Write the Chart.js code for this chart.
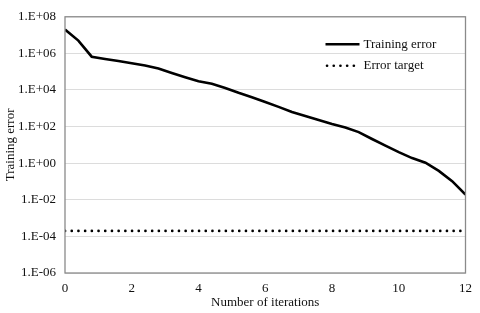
<!DOCTYPE html>
<html>
<head>
<meta charset="utf-8">
<script src="https://cdn.jsdelivr.net/npm/chart.js@4.4.1/dist/chart.umd.min.js"></script>
<style>
  html, body { margin: 0; padding: 0; background: #fff; }
  #wrap { width: 480px; height: 313px; }
</style>
</head>
<body>
<div id="wrap"><canvas id="myChart" width="480" height="313"></canvas></div>
<script>
// Iterations (x) and training error
const iterations = [0, 0.4, 0.8, 1.2, 1.6, 2.0, 2.4, 2.8, 3.2, 3.6, 4.0, 4.4, 4.8, 5.2, 5.6, 6.0,
  6.4, 6.8, 7.2, 7.6, 8.0, 8.4, 8.8, 9.2, 9.6, 10.0, 10.4, 10.8, 11.2, 11.6, 12.0]
const trainingError = [2.0e7, 5.0e6, 6.6e5, 5.0e5, 3.8e5, 2.9e5, 2.2e5, 1.5e5, 8.5e4, 5.0e4, 3.0e4,
  2.2e4, 1.3e4, 7.0e3, 4.0e3, 2.2e3, 1.2e3, 630, 380, 230, 140, 90, 50, 21, 9.1, 4.0, 1.9, 1.07,
  0.38, 0.105, 0.019]

// Error target is a flat line over the whole range
const targetIterations = [0, 12]
const errorTarget = [2e-4, 2e-4]

// Tick labels
const xTicks = [0, 2, 4, 6, 8, 10, 12]
const yTicks = [1e-6, 1e-4, 1e-2, 1, 1e2, 1e4, 1e6, 1e8]

const seriesLabels = ['Training error', 'Error target']

const FONT = '"Liberation Serif", "Times New Roman", serif'

// Excel style "1.E+08"
function sciLabel(v) {
  const e = Math.round(Math.log10(v))
  const s = e < 0 ? '-' : '+'
  return '1.E' + s + String(Math.abs(e)).padStart(2, '0')
}

// Draw the grey frame round the plot
const framePlugin = {
  id: 'frame',
  afterDatasetsDraw(chart) {
    const { ctx, chartArea: a } = chart
    ctx.save()
    ctx.strokeStyle = '#8a8a8a'
    ctx.lineWidth = 1.3
    ctx.strokeRect(a.left, a.top, a.right - a.left, a.bottom - a.top)
    ctx.restore()
  }
}

// Legend inside the plot, top right
const insideLegend = {
  id: 'insideLegend',
  afterDraw(chart) {
    const { ctx, chartArea: a } = chart
    const x0 = a.right - 140
    const rows = [a.top + 27.5, a.top + 49]
    ctx.save()
    chart.data.datasets.forEach((ds, i) => {
      const y = rows[i]
      ctx.beginPath()
      ctx.strokeStyle = ds.borderColor
      ctx.lineWidth = ds.borderWidth
      ctx.lineCap = ds.borderCapStyle || 'butt'
      ctx.setLineDash(ds.borderDash || [])
      ctx.moveTo(x0 + (i ? 1.5 : 0), y)
      ctx.lineTo(x0 + 34, y)
      ctx.stroke()
      ctx.setLineDash([])
      ctx.fillStyle = '#111'
      ctx.font = '13px ' + FONT
      ctx.textBaseline = 'middle'
      ctx.fillText(ds.label, x0 + 38, y)
    })
    ctx.restore()
  }
}

const ctx = document.getElementById('myChart').getContext('2d')

const myChart = new Chart(ctx, {
  type: 'line',
  data: {
    datasets: [
      {
        label: seriesLabels[0],
        data: iterations.map((x, i) => ({ x: x, y: trainingError[i] })),
        borderColor: '#000',
        borderWidth: 2.6,
        pointRadius: 0,
        tension: 0,
        fill: false,
      },
      {
        label: seriesLabels[1],
        data: targetIterations.map((x, i) => ({ x: x, y: errorTarget[i] })),
        borderColor: '#000',
        borderWidth: 2.6,
        borderDash: [0.1, 6.6],
        borderCapStyle: 'round',
        pointRadius: 0,
        fill: false,
      }
    ]
  },
  options: {
    responsive: false,
    animation: false,
    layout: {
      padding: { top: 12, right: 13, left: 0, bottom: 0 }
    },
    plugins: {
      legend: { display: false },
      tooltip: { enabled: false }
    },
    scales: {
      x: {
        type: 'linear',
        min: 0,
        max: 12,
        afterBuildTicks: (scale) => { scale.ticks = xTicks.map(v => ({ value: v })) },
        afterFit: (scale) => { scale.height = 40 },
        ticks: {
          color: '#111',
          padding: 8,
          maxRotation: 0,
          font: { family: FONT, size: 13 }
        },
        grid: { display: false, drawTicks: false },
        border: { display: false },
        title: {
          display: true,
          text: 'Number of iterations',
          color: '#111',
          padding: { top: 0, bottom: 3 },
          font: { family: FONT, size: 13 }
        }
      },
      y: {
        type: 'logarithmic',
        min: 1e-6,
        max: 1e8,
        afterBuildTicks: (scale) => { scale.ticks = yTicks.map(v => ({ value: v })) },
        afterFit: (scale) => { scale.width = 65 },
        ticks: {
          color: '#111',
          padding: 9,
          callback: (v) => sciLabel(v),
          font: { family: FONT, size: 13 }
        },
        grid: { color: '#dcdcdc', lineWidth: 1, drawTicks: false },
        border: { display: false },
        title: {
          display: true,
          text: 'Training error',
          color: '#111',
          padding: { top: 3, bottom: 0 },
          font: { family: FONT, size: 13 }
        }
      }
    }
  },
  plugins: [framePlugin, insideLegend]
})
</script>
</body>
</html>
